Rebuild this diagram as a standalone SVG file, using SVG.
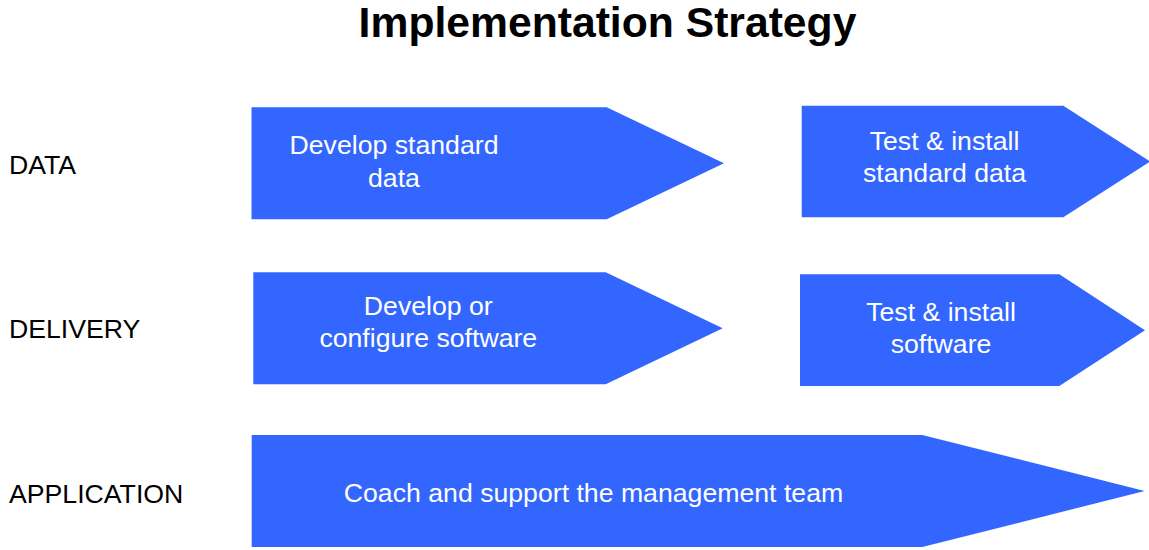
<svg xmlns="http://www.w3.org/2000/svg" width="1149" height="550" viewBox="0 0 1149 550">
  <style>
    .title { font-family: "Liberation Sans", Arial, sans-serif; font-size: 42.67px; font-weight: bold; fill: #000000; }
    .row { font-family: "Liberation Sans", Arial, sans-serif; font-size: 26.67px; fill: #000000; }
    .step { fill: #3366FF; }
    .step-text { font-family: "Liberation Sans", Arial, sans-serif; font-size: 26.67px; fill: #FFFFFF; text-anchor: middle; }
  </style>
  <rect width="1149" height="550" fill="#FFFFFF"/>

  <text class="title" x="607.5" y="37" text-anchor="middle">Implementation Strategy</text>

  <!-- row labels -->
  <g id="row-labels">
    <text class="row" x="9" y="173.5">DATA</text>
    <text class="row" x="9" y="338">DELIVERY</text>
    <text class="row" x="9" y="502.5">APPLICATION</text>
  </g>

  <!-- no connectors: the pentagon steps carry the flow themselves -->
  <g id="connectors"/>

  <g id="develop-standard-data">
    <polygon class="step" points="251.5,107.3 606.7,107.3 724,163.3 606.7,219.3 251.5,219.3"/>
    <text class="step-text" x="394" y="154.3">Develop standard</text>
    <text class="step-text" x="394" y="186.5">data</text>
  </g>

  <g id="test-install-standard-data">
    <polygon class="step" points="801.7,105.7 1063.3,105.7 1150,161.5 1063.3,217.3 801.7,217.3"/>
    <text class="step-text" x="944.5" y="149.5">Test &amp; install</text>
    <text class="step-text" x="944.5" y="182">standard data</text>
  </g>

  <g id="develop-configure-software">
    <polygon class="step" points="253.3,272.3 605.7,272.3 722.7,328.3 605.7,384.3 253.3,384.3"/>
    <text class="step-text" x="428.3" y="315">Develop or</text>
    <text class="step-text" x="428.3" y="347.2">configure software</text>
  </g>

  <g id="test-install-software">
    <polygon class="step" points="800,274.3 1059.3,274.3 1145,330.2 1059.3,386 800,386"/>
    <text class="step-text" x="941" y="321">Test &amp; install</text>
    <text class="step-text" x="941" y="353.3">software</text>
  </g>

  <g id="coach-support-management">
    <polygon class="step" points="251.7,435 922.3,435 1144.7,491 922.3,547 251.7,547"/>
    <text class="step-text" x="593.5" y="502.3">Coach and support the management team</text>
  </g>
</svg>
